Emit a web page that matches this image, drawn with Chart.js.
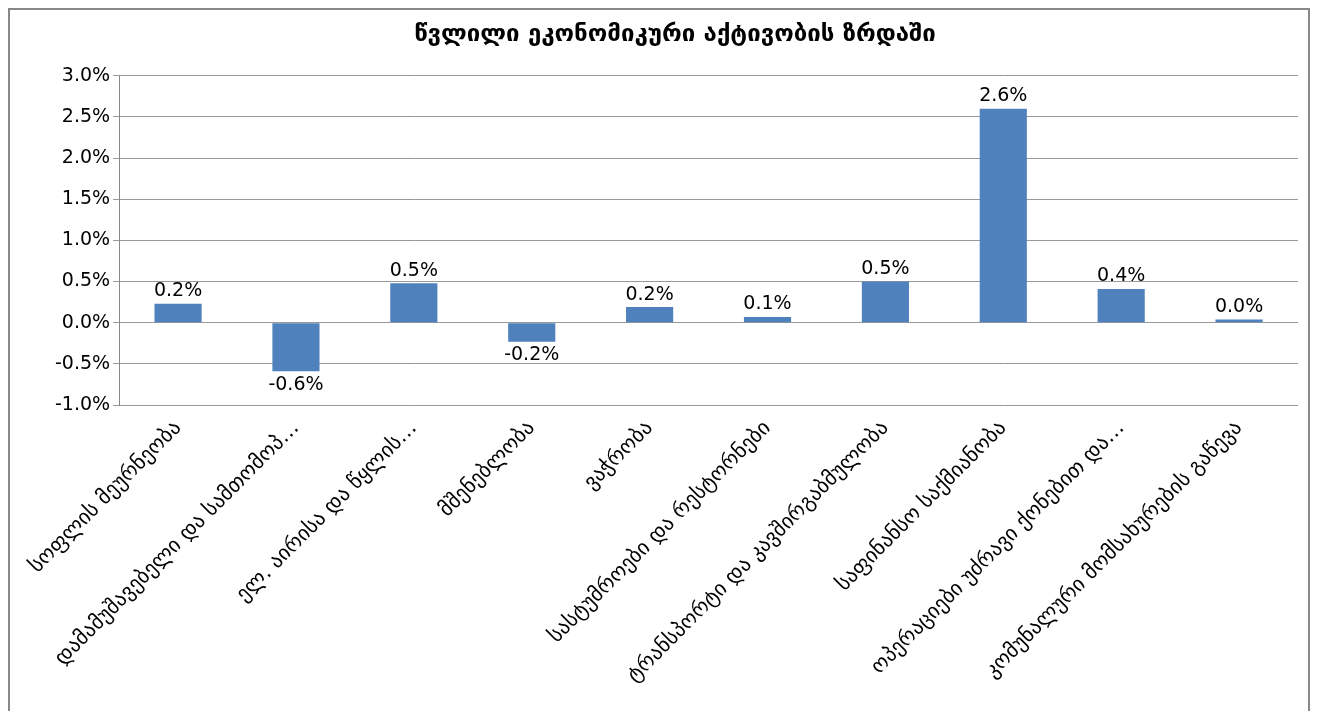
<!DOCTYPE html>
<html><head><meta charset="utf-8">
<script src="https://cdn.jsdelivr.net/npm/chart.js@4/dist/chart.umd.min.js"></script>
<style>
body{margin:0;background:#fff}
#wrap{position:absolute;left:8px;top:8px;width:1302px;height:703px;border:2px solid #888;border-bottom:none;box-sizing:border-box}
</style></head><body>
<div id="wrap"><canvas id="c"></canvas></div>
<script>
const categories = ['სოფლის მეურნეობა', 'დამამუშავებელი და სამთომოპ…', 'ელ. აირისა და წყლის…', 'მშენებლობა', 'ვაჭრობა',
	'სასტუმროები და რესტორნები', 'ტრანსპორტი და კავშირგაბმულობა', 'საფინანსო საქმიანობა', 'ოპერაციები უძრავი ქონებით და…', 'კომუნალური მომსახურების გაწევა'];
const values = [0.23, -0.59, 0.48, -0.23, 0.19, 0.07, 0.5, 2.6, 0.41, 0.04];
const title = 'წვლილი ეკონომიკური აქტივობის ზრდაში';

const labelPlugin = {
	id: 'vals',
	afterDatasetsDraw(chart) {
		const ctx = chart.ctx;
		ctx.save();
		ctx.font = '19px "DejaVu Sans"';
		ctx.fillStyle = '#000';
		ctx.textAlign = 'center';
		chart.getDatasetMeta(0).data.forEach((bar, i) => {
			const v = values[i];
			const neg = v < 0;
			ctx.textBaseline = neg ? 'top' : 'bottom';
			ctx.fillText(v.toFixed(1) + '%', bar.x, neg ? bar.y + 4 : bar.y - 3);
		});
		ctx.restore();
	}
};

new Chart(document.getElementById('c'), {
	type: 'bar',
	data: {
		labels: categories,
		datasets: [{ data: values, backgroundColor: '#4F81BD', barPercentage: 0.4, categoryPercentage: 1 }]
	},
	plugins: [labelPlugin],
	options: {
		responsive: true,
		maintainAspectRatio: false,
		animation: false,
		layout: { padding: { left: 42, right: 10, top: 0 } },
		plugins: {
			legend: { display: false },
			tooltip: { enabled: false },
			title: { display: true, text: title, color: '#000', font: { family: 'DejaVu Sans', size: 24, weight: 'bold' }, padding: { top: 10, bottom: 27 } }
		},
		scales: {
			y: {
				min: -1, max: 3,
				ticks: { stepSize: 0.5, color: '#000', font: { family: 'DejaVu Sans', size: 19 }, callback: v => v.toFixed(1) + '%' },
				grid: { color: '#999', drawTicks: true, tickLength: 6 },
				border: { color: '#888' }
			},
			x: {
				afterFit: s => { s.height = 306; },
				ticks: { color: '#000', maxRotation: 45, minRotation: 45, autoSkip: false, font: { family: 'DejaVu Sans', size: 21 } },
				grid: { display: false },
				border: { display: false }
			}
		}
	}
});
</script>
</body></html>
